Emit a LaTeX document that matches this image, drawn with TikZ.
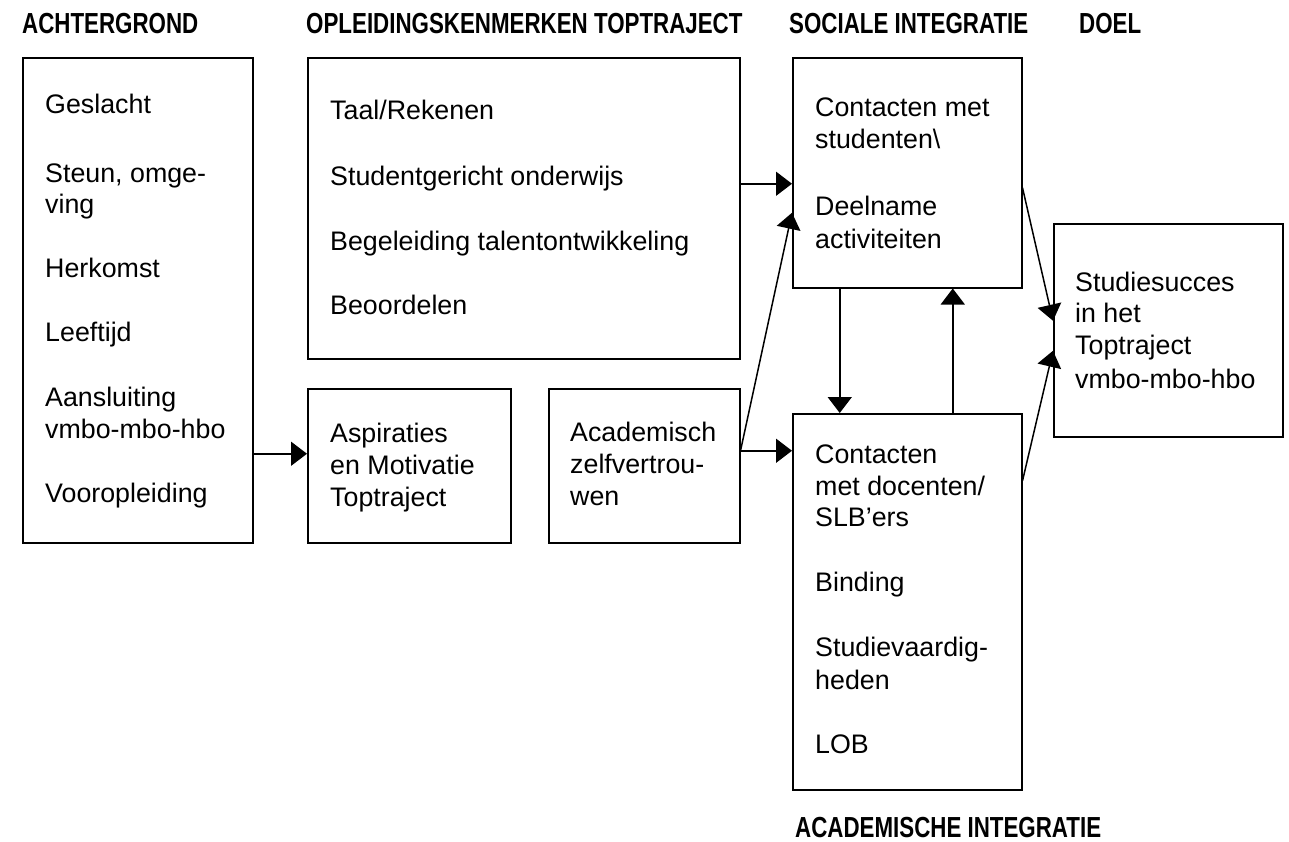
\documentclass[tikz,border=0pt]{standalone}
\usepackage{fontspec}
\setmainfont{Liberation Sans}
\newfontfamily\headfam[FakeStretch=0.77]{Liberation Sans Bold}
\usetikzlibrary{arrows.meta}
\newcommand{\bodyfont}{\fontsize{26.8}{32}\selectfont}
\newcommand{\headfont}{\headfam\fontsize{29}{29}\selectfont}
\tikzset{
  box/.style={draw, line width=1.5pt, inner sep=0pt, anchor=north west},
  txt/.style={anchor=base west, inner sep=0pt, font=\bodyfont},
  head/.style={anchor=base west, inner sep=0pt, font=\headfont},
  arr/.style={line width=1.5pt, -{Triangle[length=16pt,width=24pt]}}
}
\begin{document}
\begin{tikzpicture}[x=1pt,y=-1pt]
\useasboundingbox[fill=white] (0,0) rectangle (1289,841);
% headers
\node[head] (hA) at (22,33) {ACHTERGROND};
\node[head] (hB) at (306,33) {OPLEIDINGSKENMERKEN TOPTRAJECT};
\node[head] (hC) at (789,33) {SOCIALE INTEGRATIE};
\node[head] (hD) at (1079,33) {DOEL};
\node[head] (hG) at (795,837) {ACADEMISCHE INTEGRATIE};
% boxes
\node[box, minimum width=230pt, minimum height=485pt] (A) at (22,57) {};
\node[box, minimum width=432pt, minimum height=301pt] (B) at (307,57) {};
\node[box, minimum width=229pt, minimum height=230pt] (C) at (792,57) {};
\node[box, minimum width=229pt, minimum height=213pt] (D) at (1053,223) {};
\node[box, minimum width=203pt, minimum height=154pt] (E) at (307,388) {};
\node[box, minimum width=191pt, minimum height=154pt] (F) at (548,388) {};
\node[box, minimum width=229pt, minimum height=376pt] (G) at (792,413) {};
% texts A
\node[txt] (a1) at (45,113) {Geslacht};
\node[txt] (a2) at (45,182) {Steun, omge-};
\node[txt] (a3) at (45,213) {ving};
\node[txt] (a4) at (45,277) {Herkomst};
\node[txt] (a5) at (45,341) {Leeftijd};
\node[txt] (a6) at (45,406) {Aansluiting};
\node[txt] (a7) at (45,438) {vmbo-mbo-hbo};
\node[txt] (a8) at (45,502) {Vooropleiding};
% texts B
\node[txt] (b1) at (330,119) {Taal/Rekenen};
\node[txt] (b2) at (330,185) {Studentgericht onderwijs};
\node[txt] (b3) at (330,250) {Begeleiding talentontwikkeling};
\node[txt] (b4) at (330,314) {Beoordelen};
% texts C
\node[txt] (c1) at (815,116) {Contacten met};
\node[txt] (c2) at (815,148) {studenten\textbackslash};
\node[txt] (c3) at (815,215) {Deelname};
\node[txt] (c4) at (815,248) {activiteiten};
% texts D
\node[txt] (d1) at (1075,291) {Studiesucces};
\node[txt] (d2) at (1075,322) {in het};
\node[txt] (d3) at (1075,354) {Toptraject};
\node[txt] (d4) at (1075,388) {vmbo-mbo-hbo};
% texts E
\node[txt] (e1) at (330,442) {Aspiraties};
\node[txt] (e2) at (330,474) {en Motivatie};
\node[txt] (e3) at (330,506) {Toptraject};
% texts F
\node[txt] (f1) at (570,441) {Academisch};
\node[txt] (f2) at (570,473) {zelfvertrou-};
\node[txt] (f3) at (570,505) {wen};
% texts G
\node[txt] (g1) at (815,463) {Contacten};
\node[txt] (g2) at (815,495) {met docenten/};
\node[txt] (g3) at (815,526) {SLB’ers};
\node[txt] (g4) at (815,591) {Binding};
\node[txt] (g5) at (815,656) {Studievaardig-};
\node[txt] (g6) at (815,689) {heden};
\node[txt] (g7) at (815,753) {LOB};
% connector coordinates
\coordinate (eIn) at ([yshift=12pt]E.west);
\coordinate (cIn1) at ([yshift=-11pt]C.west);
\coordinate (cIn2) at ([yshift=-40pt]C.west);
\coordinate (fOut) at ([yshift=15pt]F.east);
\coordinate (cDown) at ([xshift=-67.5pt]C.south);
\coordinate (gUp) at ([xshift=45.5pt]G.north);
\coordinate (cOut) at ([yshift=-15pt]C.east);
\coordinate (dIn1) at ([yshift=9.5pt]D.west);
\coordinate (gOut) at ([yshift=121pt]G.east);
\coordinate (dIn2) at ([yshift=-20.5pt]D.west);
% connectors
\draw[arr] (A.east |- eIn) -- (eIn);
\draw[arr] (B.east |- cIn1) -- (cIn1);
\draw[arr] (fOut) -- (cIn2);
\draw[arr] (fOut) -- (G.west |- fOut);
\draw[arr] (cDown) -- (G.north -| cDown);
\draw[arr] (gUp) -- (C.south -| gUp);
\draw[arr] (cOut) -- (dIn1);
\draw[arr] (gOut) -- (dIn2);
\end{tikzpicture}
\end{document}
